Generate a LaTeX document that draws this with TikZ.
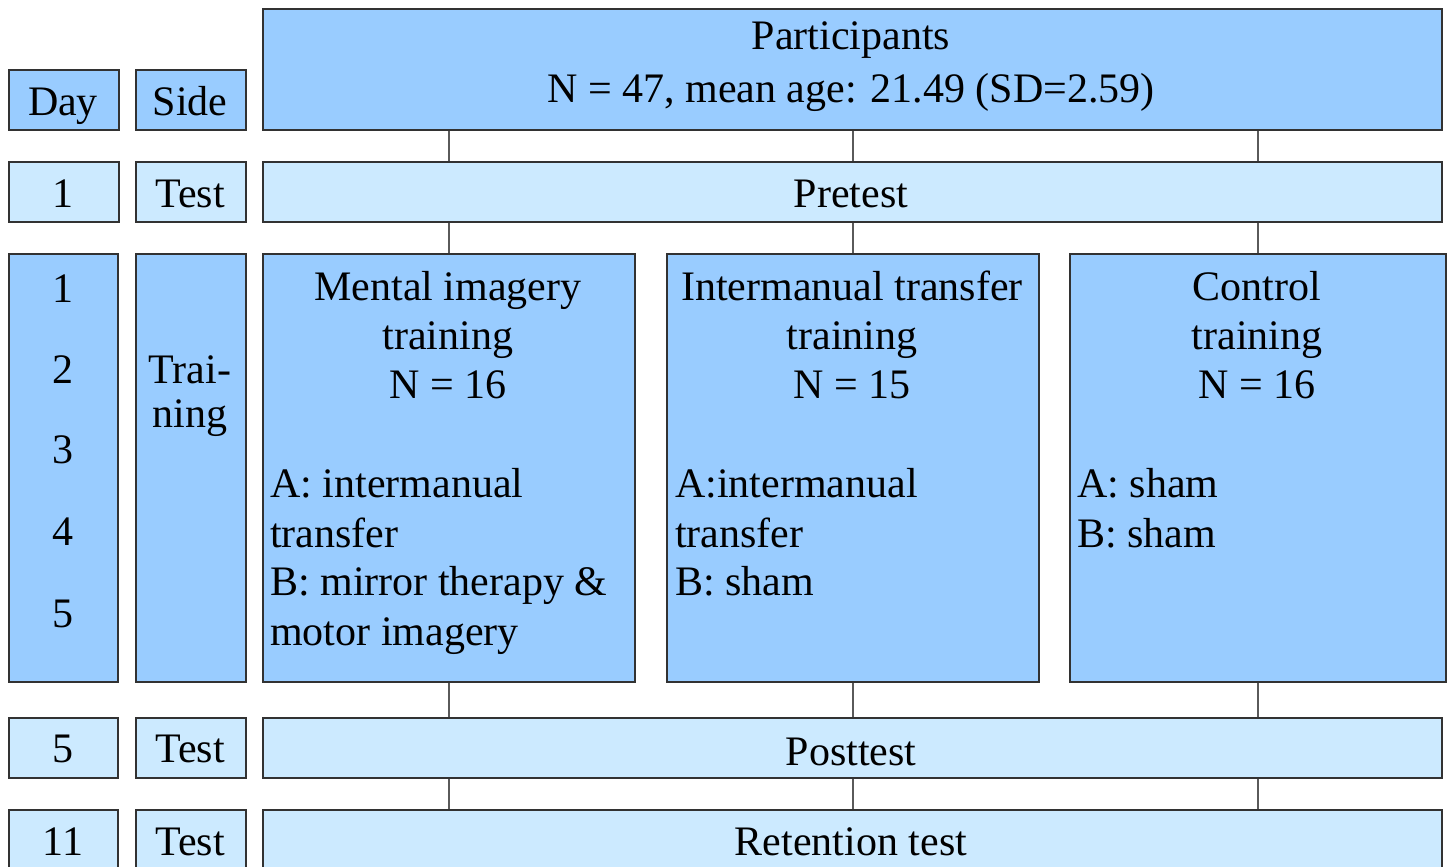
\documentclass[tikz,border=0pt]{standalone}
\usepackage{fontspec}
\setmainfont{Liberation Serif}
\definecolor{boxdark}{RGB}{153,204,255}
\definecolor{boxlight}{RGB}{204,234,255}
\definecolor{edge}{RGB}{50,50,50}
\definecolor{conn}{RGB}{90,90,90}
\tikzset{
  box/.style={draw=edge, line width=1.6pt, inner sep=0pt, anchor=north west},
  darkbox/.style={box, fill=boxdark},
  lightbox/.style={box, fill=boxlight},
  txt/.style={inner sep=0pt, anchor=base, font=\fontsize{42}{49}\selectfont},
  ltxt/.style={txt, anchor=base west},
  link/.style={draw=conn, line width=1.4pt}
}
\begin{document}
\begin{tikzpicture}[x=1pt,y=-1pt]
\useasboundingbox (0,0) rectangle (1448,867);
\begin{scope}
\clip (0,0) rectangle (1448,867);
% header row
\node[darkbox, minimum width=110, minimum height=60] (day) at (8,69) {};
\node[darkbox, minimum width=110, minimum height=60] (side) at (135,69) {};
\node[darkbox, minimum width=1179, minimum height=121] (part) at (262,8) {};
% pretest row
\node[lightbox, minimum width=110, minimum height=60] (d1) at (8,161) {};
\node[lightbox, minimum width=110, minimum height=60] (s1) at (135,161) {};
\node[lightbox, minimum width=1179, minimum height=60] (pre) at (262,161) {};
% training row
\node[darkbox, minimum width=109, minimum height=428] (dtr) at (8,253) {};
\node[darkbox, minimum width=110, minimum height=428] (str) at (135,253) {};
\node[darkbox, minimum width=372, minimum height=428] (mental) at (262,253) {};
\node[darkbox, minimum width=372, minimum height=428] (inter) at (666,253) {};
\node[darkbox, minimum width=376, minimum height=428] (ctrl) at (1069,253) {};
% posttest row
\node[lightbox, minimum width=109, minimum height=60] (d5) at (8,717) {};
\node[lightbox, minimum width=110, minimum height=60] (s5) at (135,717) {};
\node[lightbox, minimum width=1179, minimum height=60] (post) at (262,717) {};
% retention row
\node[lightbox, minimum width=109, minimum height=80] (d11) at (8,809) {};
\node[lightbox, minimum width=110, minimum height=80] (s11) at (135,809) {};
\node[lightbox, minimum width=1179, minimum height=80] (ret) at (262,809) {};
% connectors
\foreach \c in {mental,inter,ctrl}{
  \draw[link] (part.south -| \c.north) -- (pre.north -| \c.north);
  \draw[link] (pre.south -| \c.north) -- (\c.north);
  \draw[link] (\c.south) -- (post.north -| \c.south);
  \draw[link] (post.south -| \c.south) -- (ret.north -| \c.south);
}
\end{scope}
% texts
\node[txt] (tday) at (63,115) {Day};
\node[txt] (tside) at (190,115) {Side};
\node[txt] (tpart1) at (851,49) {Participants};
\node[txt] (tpart2) at (851,102) {N = 47, mean age: 21.49 (SD=2.59)};
\node[txt] (td1) at (63,207) {1};
\node[txt] (ts1) at (190,207) {Test};
\node[txt] (tpre) at (851,207) {Pretest};
\node[txt] (tn1) at (63,302) {1};
\node[txt] (tn2) at (63,383) {2};
\node[txt] (tn3) at (63,463) {3};
\node[txt] (tn4) at (63,545) {4};
\node[txt] (tn5) at (63,627) {5};
\node[txt] (ttr1) at (190,383) {Trai-};
\node[txt] (ttr2) at (190,427) {ning};
% mental
\node[txt] (tm1) at (448,300) {Mental imagery};
\node[txt] (tm2) at (448,349) {training};
\node[txt] (tm3) at (448,398) {N = 16};
\node[ltxt] (tm4) at (270,497) {A: intermanual};
\node[ltxt] (tm5) at (270,547) {transfer};
\node[ltxt] (tm6) at (270,595) {B: mirror therapy \&};
\node[ltxt] (tm7) at (270,645) {motor imagery};
% intermanual
\node[txt] (ti1) at (852,300) {Intermanual transfer};
\node[txt] (ti2) at (852,349) {training};
\node[txt] (ti3) at (852,398) {N = 15};
\node[ltxt] (ti4) at (675,497) {A:intermanual};
\node[ltxt] (ti5) at (675,547) {transfer};
\node[ltxt] (ti6) at (675,595) {B: sham};
% control
\node[txt] (tc1) at (1257,300) {Control};
\node[txt] (tc2) at (1257,349) {training};
\node[txt] (tc3) at (1257,398) {N = 16};
\node[ltxt] (tc4) at (1077,497) {A: sham};
\node[ltxt] (tc5) at (1077,547) {B: sham};
% posttest
\node[txt] (td5) at (63,762) {5};
\node[txt] (ts5) at (190,762) {Test};
\node[txt] (tpost) at (851,765) {Posttest};
% retention
\node[txt] (td11) at (63,855) {11};
\node[txt] (ts11) at (190,855) {Test};
\node[txt] (tret) at (851,855) {Retention test};
\end{tikzpicture}
\end{document}
